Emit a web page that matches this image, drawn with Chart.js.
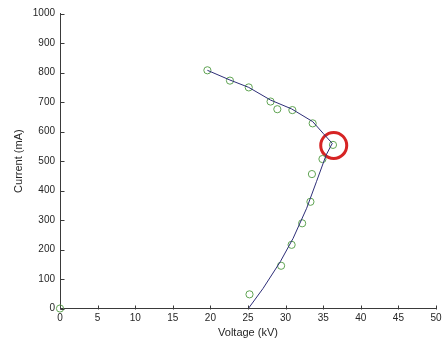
<!DOCTYPE html>
<html>
<head>
<meta charset="utf-8">
<script src="https://cdn.jsdelivr.net/npm/chart.js@4"></script>
<style>
  html, body { margin: 0; padding: 0; background: #ffffff; }
  #wrap { width: 443px; height: 345px; position: relative; }
</style>
</head>
<body>
<div id="wrap"><canvas id="c" width="443" height="345"></canvas></div>
<script>
// Measured data points (Voltage kV, Current mA)
const voltage = [0, 19.6, 22.6, 25.1, 28.0, 28.9, 30.9, 33.6, 36.3, 34.9, 33.5, 33.3, 32.2, 30.8, 29.4, 25.2];
const current = [0, 808, 773, 750, 702, 676, 673, 628, 555, 507, 456, 362, 289, 216, 145, 48];

// Fitted curve (upper branch then lower branch)
const fitVoltage = [19.6, 22.6, 25.1, 28.0, 30.8, 33.6, 35.0, 36.2, 35.4, 34.1, 32.8, 31.0, 29.3, 27.0, 25.05];
const fitCurrent = [808, 775, 750, 707, 677, 634, 594, 560, 521, 430, 340, 238, 159, 68, 0];

// Highlighted point (red ring)
const markVoltage = [36.4];
const markCurrent = [553];

// Axis ticks
const xTicks = [0, 5, 10, 15, 20, 25, 30, 35, 40, 45, 50];
const yTicks = [0, 100, 200, 300, 400, 500, 600, 700, 800, 900, 1000];

const toXY = (xs, ys) => xs.map((x, i) => ({ x: x, y: ys[i] }));

const axisColor = '#3a3a3a';
const textColor = '#262626';
const tickFont = { family: 'Liberation Sans, Arial, sans-serif', size: 10 };
const titleFont = { family: 'Liberation Sans, Arial, sans-serif', size: 11 };

// Draw MATLAB-style inward tick marks at each scale tick
const inwardTicks = {
  id: 'inwardTicks',
  afterDraw(chart) {
    const ctx = chart.ctx;
    const xs = chart.scales.x, ys = chart.scales.y;
    const len = 4;
    ctx.save();
    ctx.strokeStyle = axisColor;
    ctx.lineWidth = 1;
    ctx.beginPath();
    xs.ticks.forEach(t => {
      const px = Math.round(xs.getPixelForValue(t.value)) + 0.5;
      const py = Math.round(ys.bottom) + 0.5;
      ctx.moveTo(px, py);
      ctx.lineTo(px, py - len);
    });
    ys.ticks.forEach(t => {
      const py = Math.round(ys.getPixelForValue(t.value)) + 0.5;
      const px = Math.round(xs.left) + 0.5;
      ctx.moveTo(px, py);
      ctx.lineTo(px + len, py);
    });
    ctx.stroke();
    ctx.restore();
  }
};

new Chart(document.getElementById('c'), {
  type: 'scatter',
  plugins: [inwardTicks],
  data: {
    datasets: [
      {
        label: 'fit',
        data: toXY(fitVoltage, fitCurrent),
        showLine: true,
        borderColor: '#2e2e78',
        borderWidth: 1,
        pointRadius: 0,
        tension: 0,
        fill: false
      },
      {
        label: 'measured',
        data: toXY(voltage, current),
        showLine: false,
        pointStyle: 'circle',
        pointRadius: 3.6,
        borderColor: '#5fa352',
        backgroundColor: 'rgba(0,0,0,0)',
        borderWidth: 1,
        clip: false
      },
      {
        label: 'mark',
        data: toXY(markVoltage, markCurrent),
        showLine: false,
        pointStyle: 'circle',
        pointRadius: 13,
        borderColor: '#d62424',
        backgroundColor: 'rgba(0,0,0,0)',
        borderWidth: 3,
        clip: false
      }
    ]
  },
  options: {
    responsive: false,
    animation: false,
    devicePixelRatio: 1,
    layout: { padding: 0, autoPadding: false },
    plugins: {
      legend: { display: false },
      tooltip: { enabled: false }
    },
    scales: {
      x: {
        type: 'linear',
        min: 0,
        max: 50,
        afterBuildTicks: (s) => { s.ticks = xTicks.map(v => ({ value: v })); },
        afterFit: (s) => { s.height = 36.5; s.paddingLeft = 0; s.paddingRight = 7; },
        grid: { drawOnChartArea: false, drawTicks: false, color: axisColor, lineWidth: 1 },
        border: { display: true, color: axisColor, width: 1 },
        ticks: { color: textColor, font: tickFont, padding: 3.5, maxRotation: 0, callback: (v) => String(v) },
        title: { display: true, text: 'Voltage (kV)', color: textColor, font: titleFont, padding: { top: 0, bottom: 5 } }
      },
      y: {
        type: 'linear',
        min: 0,
        max: 1000,
        afterBuildTicks: (s) => { s.ticks = yTicks.map(v => ({ value: v })); },
        afterFit: (s) => { s.width = 60; s.paddingTop = 13.7; s.paddingBottom = 0; },
        grid: { drawOnChartArea: false, drawTicks: false, color: axisColor, lineWidth: 1 },
        border: { display: true, color: axisColor, width: 1 },
        ticks: { color: textColor, font: tickFont, padding: 5, callback: (v) => String(v) },
        title: { display: true, text: 'Current (mA)', color: textColor, font: titleFont, padding: { top: 12, bottom: 0 } }
      }
    }
  }
});
</script>
</body>
</html>
